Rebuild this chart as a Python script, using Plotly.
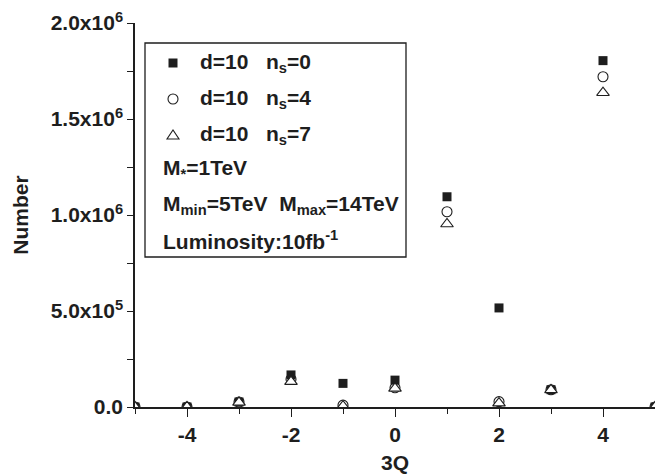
import plotly.graph_objects as go

# ---- data ----
charge_3q = [-5, -4, -3, -2, -1, 0, 1, 2, 3, 4, 5]
ns0_values = [0, 0, 2.6e4, 1.67e5, 1.23e5, 1.40e5, 1.095e6, 5.16e5, 0.90e5, 1.804e6, 0]
ns4_values = [0, 0, 2.6e4, 1.45e5, 1.0e4, 1.00e5, 1.017e6, 2.8e4, 0.90e5, 1.720e6, 0]
ns7_values = [0, 0, 2.4e4, 1.32e5, 5.0e3, 0.97e5, 0.953e6, 2.0e4, 0.89e5, 1.637e6, 0]

x_tickvals = [-4, -2, 0, 2, 4]
x_ticktext = ["-4", "-2", "0", "2", "4"]
y_tickvals = [0, 5e5, 1e6, 1.5e6, 2e6]
y_ticktext = ["0.0", "5.0x10<sup>5</sup>", "1.0x10<sup>6</sup>",
              "1.5x10<sup>6</sup>", "2.0x10<sup>6</sup>"]

series_names = ["d=10&nbsp;&nbsp;&nbsp;n<sub>s</sub>=0",
                "d=10&nbsp;&nbsp;&nbsp;n<sub>s</sub>=4",
                "d=10&nbsp;&nbsp;&nbsp;n<sub>s</sub>=7"]
info_lines = ["M<sub>*</sub>=1TeV",
              "M<sub>min</sub>=5TeV&nbsp;&nbsp;M<sub>max</sub>=14TeV",
              "Luminosity:10fb<sup>-1</sup>"]

INK = "#1e1e1e"
FONT = "Liberation Sans, Arial, sans-serif"

W, H = 655, 474
L, R, T, B = 135, 0, 23, 67
PW, PH = W - L - R, H - T - B


def px(x):
    return (x - L) / PW


def py(y):
    return (H - B - y) / PH


def bold(items):
    return ["<b>" + t + "</b>" for t in items]


fig = go.Figure()
fig.add_trace(go.Scatter(x=charge_3q, y=ns0_values, mode="markers", name=series_names[0],
                         marker=dict(symbol="square", size=9, color=INK,
                                     line=dict(width=0))))
fig.add_trace(go.Scatter(x=charge_3q, y=ns4_values, mode="markers", name=series_names[1],
                         marker=dict(symbol="circle-open", size=10, color=INK,
                                     line=dict(width=1.1, color=INK))))
fig.add_trace(go.Scatter(x=charge_3q, y=ns7_values, mode="markers", name=series_names[2],
                         marker=dict(symbol="triangle-up", size=11, color="white",
                                     line=dict(width=1.1, color=INK))))

# legend box
shapes = [dict(type="rect", xref="paper", yref="paper",
               x0=px(145), x1=px(406), y0=py(43), y1=py(257),
               line=dict(color=INK, width=1.3), fillcolor="rgba(0,0,0,0)")]
# legend keys
sx, s = 173, 4.5
shapes.append(dict(type="rect", xref="paper", yref="paper",
                   x0=px(sx - s), x1=px(sx + s), y0=py(63 - s), y1=py(63 + s),
                   line=dict(width=0), fillcolor=INK))
shapes.append(dict(type="circle", xref="paper", yref="paper",
                   x0=px(sx - 5), x1=px(sx + 5), y0=py(99 - 5), y1=py(99 + 5),
                   line=dict(width=1.1, color=INK), fillcolor="white"))
shapes.append(dict(type="path", xref="paper", yref="paper",
                   path="M {} {} L {} {} L {} {} Z".format(
                       px(sx - 6), py(139), px(sx + 6), py(139), px(sx), py(130)),
                   line=dict(width=1.1, color=INK), fillcolor="white"))

annotations = []
for name, yy in zip(series_names, [63, 99, 135]):
    annotations.append(dict(x=px(198), y=py(yy), xref="paper", yref="paper",
                            text="<b>" + name + "</b>", showarrow=False,
                            xanchor="left", yanchor="middle",
                            font=dict(family=FONT, size=21, color=INK)))
for line, yy in zip(info_lines, [169, 205, 240]):
    annotations.append(dict(x=px(161), y=py(yy), xref="paper", yref="paper",
                            text="<b>" + line + "</b>", showarrow=False,
                            xanchor="left", yanchor="middle",
                            font=dict(family=FONT, size=21, color=INK)))

fig.update_layout(
    width=W, height=H,
    margin=dict(l=L, r=R, t=T, b=B, autoexpand=False),
    paper_bgcolor="white", plot_bgcolor="white",
    showlegend=False,
    shapes=shapes, annotations=annotations,
    font=dict(family=FONT, color=INK),
    xaxis=dict(range=[-5, 5], tickvals=x_tickvals, ticktext=bold(x_ticktext),
               ticks="outside", ticklen=8, tickwidth=1.3, tickcolor=INK,
               showline=True, linecolor=INK, linewidth=1.5,
               showgrid=False, zeroline=False, mirror=False,
               tickfont=dict(family=FONT, size=21, color=INK),
               minor=dict(dtick=1, tick0=1, ticks="outside", ticklen=5,
                          tickwidth=1.3, tickcolor=INK, showgrid=False),
               title=dict(text="<b>3Q</b>", standoff=14,
                          font=dict(family=FONT, size=21, color=INK))),
    yaxis=dict(range=[0, 2e6], tickvals=y_tickvals, ticktext=bold(y_ticktext),
               ticks="outside", ticklen=6, tickwidth=1.3, tickcolor=INK,
               showline=True, linecolor=INK, linewidth=1.5,
               showgrid=False, zeroline=False, mirror=False,
               tickfont=dict(family=FONT, size=21, color=INK),
               minor=dict(dtick=2.5e5, ticks="outside", ticklen=6,
                          tickwidth=1.3, tickcolor=INK, showgrid=False),
               title=dict(text="<b>Number</b>", standoff=16,
                          font=dict(family=FONT, size=21, color=INK))),
)

fig.write_html("out.html")
